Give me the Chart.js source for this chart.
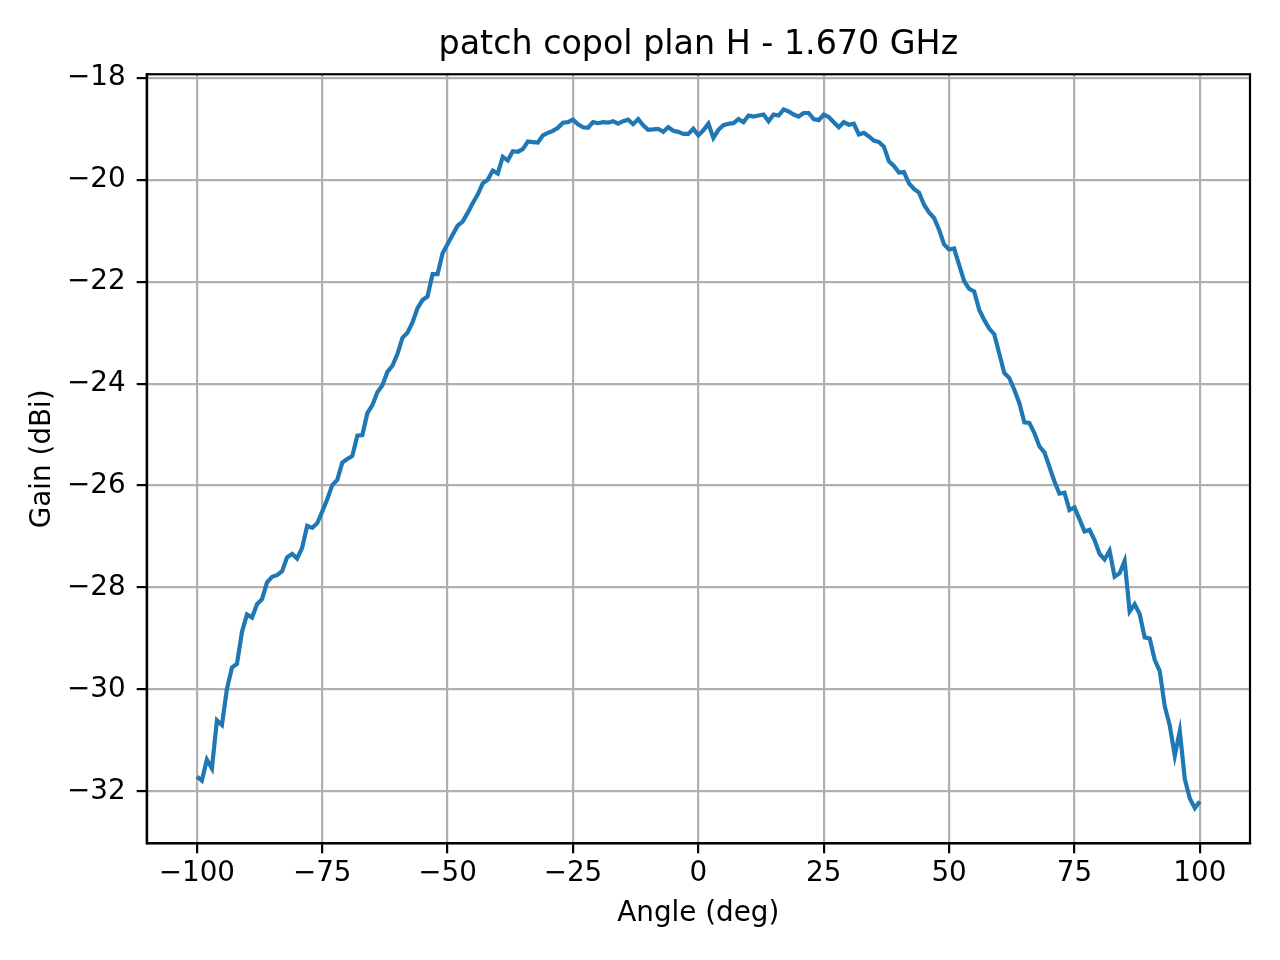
<!DOCTYPE html>
<html>
<head>
<meta charset="utf-8">
<script src="https://cdn.jsdelivr.net/npm/chart.js@4"></script>
<style>
  body { margin: 0; background: #fff; }
</style>
</head>
<body>
<canvas id="myChart" width="1280" height="960"></canvas>
<script>
//Measured angles (deg)
var angles = [
  -100, -99, -98, -97, -96, -95, -94, -93, -92, -91,
  -90, -89, -88, -87, -86, -85, -84, -83, -82, -81,
  -80, -79, -78, -77, -76, -75, -74, -73, -72, -71,
  -70, -69, -68, -67, -66, -65, -64, -63, -62, -61,
  -60, -59, -58, -57, -56, -55, -54, -53, -52, -51,
  -50, -49, -48, -47, -46, -45, -44, -43, -42, -41,
  -40, -39, -38, -37, -36, -35, -34, -33, -32, -31,
  -30, -29, -28, -27, -26, -25, -24, -23, -22, -21,
  -20, -19, -18, -17, -16, -15, -14, -13, -12, -11,
  -10, -9, -8, -7, -6, -5, -4, -3, -2, -1,
  0, 1, 2, 3, 4, 5, 6, 7, 8, 9,
  10, 11, 12, 13, 14, 15, 16, 17, 18, 19,
  20, 21, 22, 23, 24, 25, 26, 27, 28, 29,
  30, 31, 32, 33, 34, 35, 36, 37, 38, 39,
  40, 41, 42, 43, 44, 45, 46, 47, 48, 49,
  50, 51, 52, 53, 54, 55, 56, 57, 58, 59,
  60, 61, 62, 63, 64, 65, 66, 67, 68, 69,
  70, 71, 72, 73, 74, 75, 76, 77, 78, 79,
  80, 81, 82, 83, 84, 85, 86, 87, 88, 89,
  90, 91, 92, 93, 94, 95, 96, 97, 98, 99,
  100
];

//Gain (dBi), one value per angle
var gain = [
  -31.71, -31.79, -31.38, -31.55, -30.61, -30.70, -29.99, -29.57, -29.50, -28.87,
  -28.53, -28.59, -28.33, -28.23, -27.90, -27.79, -27.76, -27.68, -27.41, -27.34,
  -27.43, -27.22, -26.79, -26.83, -26.74, -26.51, -26.27, -25.99, -25.89, -25.55,
  -25.48, -25.42, -25.02, -25.01, -24.58, -24.42, -24.17, -24.03, -23.77, -23.65,
  -23.42, -23.10, -23.00, -22.80, -22.52, -22.36, -22.29, -21.85, -21.85, -21.44,
  -21.26, -21.08, -20.90, -20.82, -20.65, -20.46, -20.29, -20.07, -20.00, -19.82,
  -19.88, -19.55, -19.62, -19.44, -19.45, -19.40, -19.25, -19.26, -19.27, -19.13,
  -19.08, -19.04, -18.98, -18.88, -18.87, -18.82, -18.91, -18.97, -18.98, -18.87,
  -18.89, -18.87, -18.88, -18.85, -18.90, -18.85, -18.82, -18.91, -18.81, -18.93,
  -19.02, -19.01, -19.00, -19.06, -18.97, -19.04, -19.06, -19.10, -19.10, -19.00,
  -19.13, -19.03, -18.90, -19.18, -19.02, -18.93, -18.90, -18.89, -18.81, -18.87,
  -18.74, -18.76, -18.74, -18.72, -18.85, -18.72, -18.74, -18.62, -18.66, -18.72,
  -18.76, -18.69, -18.69, -18.81, -18.83, -18.72, -18.77, -18.87, -18.97, -18.87,
  -18.92, -18.90, -19.11, -19.08, -19.15, -19.23, -19.26, -19.35, -19.64, -19.73,
  -19.86, -19.85, -20.07, -20.18, -20.25, -20.49, -20.64, -20.75, -20.98, -21.27,
  -21.37, -21.35, -21.67, -21.99, -22.14, -22.19, -22.55, -22.75, -22.92, -23.03,
  -23.41, -23.79, -23.89, -24.12, -24.38, -24.76, -24.77, -24.97, -25.23, -25.35,
  -25.63, -25.92, -26.16, -26.14, -26.48, -26.43, -26.66, -26.90, -26.87, -27.07,
  -27.34, -27.45, -27.28, -27.79, -27.72, -27.48, -28.47, -28.33, -28.52, -28.98,
  -29.00, -29.42, -29.64, -30.33, -30.71, -31.30, -30.82, -31.76, -32.14, -32.33,
  -32.20
];

var xTicks = [-100, -75, -50, -25, 0, 25, 50, 75, 100];
var yTicks = [-32, -30, -28, -26, -24, -22, -20, -18];

var FONT = 'DejaVu Sans';

//matplotlib style minus sign
function minusLabel(v) {
  return String(v).replace('-', '\u2212');
}

//Draw the top and right spines too
var framePlugin = {
  id: 'frame',
  afterDatasetsDraw: function(chart) {
    var a = chart.chartArea;
    var ctx = chart.ctx;
    ctx.save();
    ctx.strokeStyle = '#000';
    ctx.lineWidth = 2.2;
    ctx.strokeRect(a.left, a.top, a.right - a.left, a.bottom - a.top);
    ctx.restore();
  }
};

var points = angles.map(function(a, i) { return {x: a, y: gain[i]}; });

var ctx = document.getElementById('myChart').getContext('2d');
var myChart = new Chart(ctx, {
  type: 'line',
  data: {
    datasets: [{
      data: points,
      borderColor: '#1f77b4',
      borderWidth: 4.2,
      pointRadius: 0,
      tension: 0,
      fill: false
    }]
  },
  options: {
    responsive: false,
    devicePixelRatio: 1,
    animation: false,
    layout: { padding: { left: 0, right: 30, top: 0, bottom: 0 } },
    plugins: {
      legend: { display: false },
      tooltip: { enabled: false },
      title: {
        display: true,
        fullSize: false,
        text: 'patch copol plan H - 1.670 GHz',
        color: '#000',
        font: { family: FONT, size: 33.3, weight: 'normal', lineHeight: 1.2 },
        padding: { top: 25.2, bottom: 9.1 }
      }
    },
    scales: {
      x: {
        type: 'linear',
        min: -110,
        max: 110,
        afterBuildTicks: function(s) { s.ticks = xTicks.map(function(v) { return {value: v}; }); },
        afterFit: function(s) { s.height = 116.7; },
        ticks: {
          color: '#000',
          font: { family: FONT, size: 27.8, lineHeight: 1.2 },
          padding: 3.5,
          maxRotation: 0,
          autoSkip: false,
          callback: minusLabel
        },
        grid: { color: '#b0b0b0', lineWidth: 2.2, tickColor: '#000', tickWidth: 2.2, tickLength: 10 },
        border: { color: '#000', width: 2.2 },
        title: {
          display: true,
          text: 'Angle (deg)',
          color: '#000',
          font: { family: FONT, size: 27.8, lineHeight: 1.2 },
          padding: { top: 0, bottom: 29.6 }
        }
      },
      y: {
        type: 'linear',
        min: -33.02,
        max: -17.93,
        afterBuildTicks: function(s) { s.ticks = yTicks.map(function(v) { return {value: v}; }); },
        afterFit: function(s) { s.width = 146.7; },
        ticks: {
          color: '#000',
          font: { family: FONT, size: 27.8, lineHeight: 1.2 },
          padding: 11,
          callback: minusLabel
        },
        grid: { color: '#b0b0b0', lineWidth: 2.2, tickColor: '#000', tickWidth: 2.2, tickLength: 10 },
        border: { color: '#000', width: 2.2 },
        title: {
          display: true,
          text: 'Gain (dBi)',
          color: '#000',
          font: { family: FONT, size: 27.8, lineHeight: 1.2 },
          padding: { top: 26.4, bottom: 0 }
        }
      }
    }
  },
  plugins: [framePlugin]
});
</script>
</body>
</html>
